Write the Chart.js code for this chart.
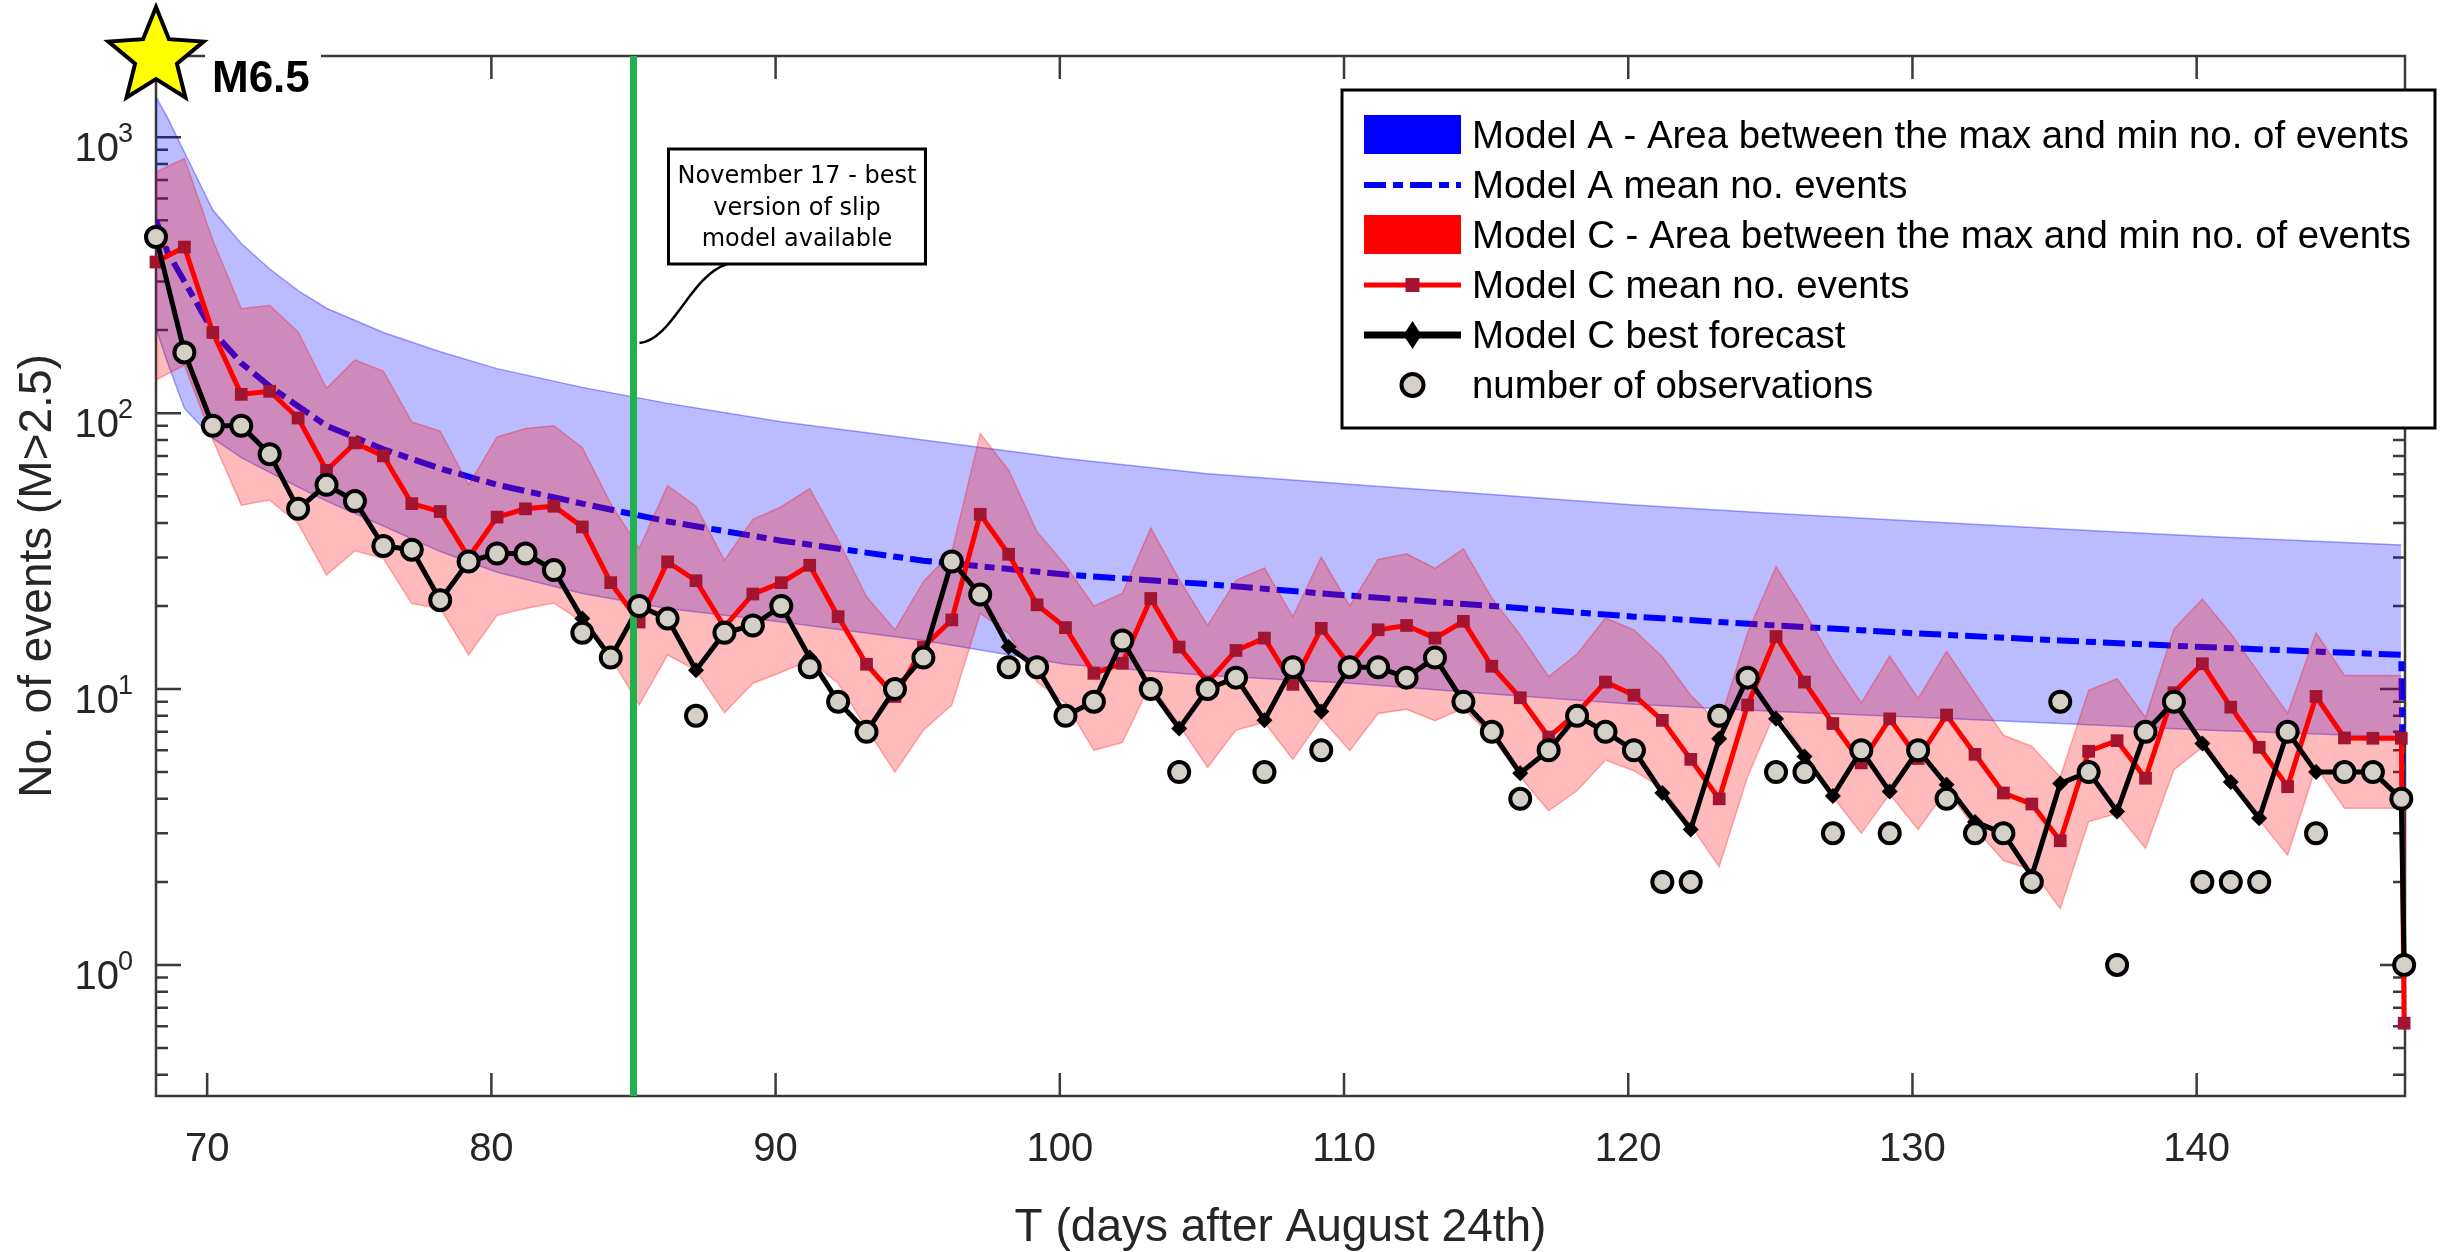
<!DOCTYPE html>
<html>
<head>
<meta charset="utf-8">
<title>Number of events after the M6.5 mainshock</title>
<script src="https://cdn.jsdelivr.net/npm/chart.js@4.4.0/dist/chart.umd.min.js"></script>
<style>
  html, body { margin: 0; padding: 0; background: #fff; }
  #wrap { width: 2447px; height: 1252px; }
</style>
</head>
<body>
<div id="wrap"><canvas id="chart" width="2447" height="1252"></canvas></div>
<script>
// time axis: one sample per day, first one at the M6.5 mainshock
const days = [
  68.2, 69.2, 70.2, 71.2, 72.2, 73.2, 74.2, 75.2, 76.2, 77.2,
  78.2, 79.2, 80.2, 81.2, 82.2, 83.2, 84.2, 85.2, 86.2, 87.2,
  88.2, 89.2, 90.2, 91.2, 92.2, 93.2, 94.2, 95.2, 96.2, 97.2,
  98.2, 99.2, 100.2, 101.2, 102.2, 103.2, 104.2, 105.2, 106.2, 107.2,
  108.2, 109.2, 110.2, 111.2, 112.2, 113.2, 114.2, 115.2, 116.2, 117.2,
  118.2, 119.2, 120.2, 121.2, 122.2, 123.2, 124.2, 125.2, 126.2, 127.2,
  128.2, 129.2, 130.2, 131.2, 132.2, 133.2, 134.2, 135.2, 136.2, 137.2,
  138.2, 139.2, 140.2, 141.2, 142.2, 143.2, 144.2, 145.2, 146.2, 147.2
];

// observed number of M>2.5 events per day
const observed = [
  435, 166, 90, 90, 71, 45, 55, 48, 33, 32,
  21, 29, 31, 31, 27, 16, 13, 20, 18, 8,
  16, 17, 20, 12, 9, 7, 10, 13, 29, 22,
  12, 12, 8, 9, 15, 10, 5, 10, 11, 5,
  12, 6, 12, 12, 11, 13, 9, 7, 4, 6,
  8, 7, 6, 2, 2, 8, 11, 5, 5, 3,
  6, 3, 6, 4, 3, 3, 2, 9, 5, 1,
  7, 9, 2, 2, 2, 7, 3, 5, 5, 4
];

// Model C best forecast
const bestForecast = [
  435, 166, 90, 90, 71, 45, 55, 48, 33, 32,
  21, 29, 31, 31, 27, 18, 13, 20, 18, 11.7,
  16, 17, 20, 13, 9, 7, 10, 13, 29, 22,
  14.2, 12, 8, 9, 15, 10, 7.2, 10, 11, 7.7,
  12, 8.3, 12, 12, 11, 13, 9, 7, 4.95, 6,
  8, 7, 6, 4.2, 3.1, 6.6, 11, 7.8, 5.7, 4.1,
  6, 4.25, 6, 4.5, 3.3, 3, 2.1, 4.55, 5, 3.6,
  7, 9, 6.35, 4.6, 3.4, 7, 5, 5, 5, 4
];

// Model C mean, max and min no. of events
const modelCMean = [
  353, 400, 196, 117, 120, 96, 62, 78, 70, 47,
  44, 30, 42, 45, 46, 38.7, 24.3, 17.5, 28.9, 24.7,
  16.8, 22.1, 24.3, 28.1, 18.3, 12.3, 9.4, 14.2, 17.8, 43,
  30.8, 20.2, 16.7, 11.4, 12.4, 21.3, 14.2, 10.6, 13.8, 15.3,
  10.4, 16.6, 12.2, 16.4, 17, 15.3, 17.6, 12.1, 9.3, 6.7,
  8.2, 10.6, 9.5, 7.7, 5.56, 4.0, 8.75, 15.5, 10.6, 7.5,
  5.4, 7.8, 5.6, 8.05, 5.8, 4.2, 3.83, 2.82, 5.95, 6.5,
  4.75, 9.7, 12.35, 8.6, 6.15, 4.43, 9.4, 6.65, 6.63, 6.63
];
const modelCMax = [
  749, 837, 423, 239, 246, 197, 123, 156, 142, 93,
  86, 55, 82, 88, 90, 75, 47, 32.4, 54.6, 46,
  29.3, 41.2, 45.8, 53.3, 34.7, 21.6, 16.4, 24.5, 31.4, 84.4,
  62.2, 37.2, 28.1, 20, 22.2, 38.4, 25, 17, 24.8, 27.5,
  18.3, 30.1, 20, 29.5, 30.9, 27.4, 32.2, 21.4, 15.7, 11.1,
  13.4, 18.1, 16.4, 13.1, 9.5, 7.5, 16, 27.8, 19.1, 12.7,
  8.9, 13.2, 9.25, 13.7, 9.65, 6.8, 6.2, 4.8, 9.9, 10.9,
  7.9, 16.5, 21.2, 15.9, 11.4, 8.16, 16, 11.2, 11.2, 11.2
];
const modelCMin = [
  132, 149, 80, 46.4, 48.4, 39.8, 25.9, 31.7, 29.7, 20.4,
  19.6, 13.3, 18.5, 19.6, 20.5, 17.5, 13, 8.75, 13.3, 11.7,
  8.2, 10.5, 11.5, 12.7, 10.5, 7.2, 5.0, 7.1, 8.75, 18.8,
  15.9, 10.6, 8.9, 6.0, 6.4, 10.5, 7.4, 5.2, 7.1, 7.57,
  5.56, 7.83, 5.98, 8.16, 8.44, 7.68, 8.51, 6.72, 4.81, 3.62,
  4.28, 5.53, 5.06, 4.37, 3.2, 2.27, 4.81, 8.39, 5.85, 4.07,
  3.0, 4.16, 3.1, 4.31, 3.13, 2.39, 2.21, 1.6, 3.31, 3.54,
  2.65, 5.1, 6.15, 4.55, 3.35, 2.5, 5.23, 3.7, 3.7, 3.7
];

// Model A envelope and mean, sampled along the decay curve
const modelADays = [
  68.2, 68.6, 69.2, 70.2, 71.2, 72.2, 73.2, 74.2, 76.2, 78.2, 80.2, 83.2, 86.2,
  90.2, 95.2, 100.2, 105.2, 110.2, 115.2, 120.2, 125.2, 130.2, 135.2, 140.2, 147.2
];
const modelAMax = [
  1400, 1180, 882, 545, 412, 333, 278, 240, 196, 167, 145, 124, 108.5,
  93, 80, 68.5, 60.3, 55.3, 50.7, 46.5, 43.3, 40.6, 38, 35.8, 33.3
];
const modelAMin = [
  203, 153, 104, 81, 69, 61, 54, 48, 39, 31.5, 26.5, 22.2, 19.6,
  17.5, 15, 12.3, 11.2, 10.5, 9.6, 8.8, 8.3, 7.9, 7.5, 7.1, 6.7
];
const modelAMean = [
  500, 385, 300, 198, 152, 125, 106, 90, 74, 63, 55, 47, 40.5,
  34.5, 29.2, 26, 24, 21.8, 20, 18.3, 17, 15.9, 15, 14.2, 13.3
];

// the last, partial day
const lastDay = 147.3;
const lastObserved = 1;
const lastBest = 1;
const lastModelCMean = 0.615;
const lastModelAMean = 1.5;

const novemberDay = 85;           // November 17
const xTicks = [70, 80, 90, 100, 110, 120, 130, 140];
const yDecades = [1, 10, 100, 1000];
const yExponents = ['0', '1', '2', '3'];
const xMin = 68.2, xMax = 147.33;
const yMin = 0.335, yMax = 1970;

const legendLabels = [
  'Model A - Area between the max and min no. of events',
  'Model A mean no. events',
  'Model C - Area between the max and min no. of events',
  'Model C mean no. events',
  'Model C best forecast',
  'number of observations'
];
const noteLines = ['November 17 - best', 'version of slip', 'model available'];

const FONT = "'Liberation Sans', Arial, sans-serif";
const axisColor = '#3a3a3a';
const textColor = '#262626';
const blueFill = 'rgba(0,0,255,0.265)';
const blueEdge = 'rgba(0,0,255,0.35)';
const redFill = 'rgba(255,0,0,0.265)';
const redEdge = 'rgba(255,0,0,0.3)';
const redMarker = '#a2142f';
const obsFill = '#d4d0c8';
const green = '#22b14c';
const meanDash = [22, 7, 10, 7];

Chart.defaults.font.family = FONT;

const pts = (xs, ys) => xs.map((x, i) => ({ x: x, y: ys[i] }));

function drawStar(ctx, cx, cy, rOut, rIn) {
  ctx.beginPath();
  for (let i = 0; i < 10; i++) {
    const r = i % 2 === 0 ? rOut : rIn;
    const a = -Math.PI / 2 + i * Math.PI / 5;
    const px = cx + r * Math.cos(a);
    const py = cy + r * Math.sin(a);
    if (i === 0) ctx.moveTo(px, py); else ctx.lineTo(px, py);
  }
  ctx.closePath();
}

// box, inward ticks (MATLAB style), drawn under the data
const axesFrame = {
  id: 'axesFrame',
  beforeDatasetsDraw(chart) {
    const { ctx, chartArea: a, scales: { x, y } } = chart;
    ctx.save();
    ctx.strokeStyle = axisColor;
    ctx.lineWidth = 2.5;
    ctx.strokeRect(a.left, a.top, a.right - a.left, a.bottom - a.top);
    ctx.beginPath();
    xTicks.forEach(v => {
      const px = x.getPixelForValue(v);
      ctx.moveTo(px, a.bottom); ctx.lineTo(px, a.bottom - 23);
      ctx.moveTo(px, a.top); ctx.lineTo(px, a.top + 23);
    });
    for (let e = -1; e <= 3; e++) {
      for (let k = 1; k <= 9; k++) {
        const v = k * Math.pow(10, e);
        if (v < yMin || v > yMax) continue;
        const py = y.getPixelForValue(v);
        const len = k === 1 ? 25 : 12;
        ctx.moveTo(a.left, py); ctx.lineTo(a.left + len, py);
        ctx.moveTo(a.right, py); ctx.lineTo(a.right - len, py);
      }
    }
    ctx.stroke();
    ctx.restore();
  }
};

// y labels with exponents, axis titles, callout, star and legend
const decorations = {
  id: 'decorations',
  afterDraw(chart) {
    const { ctx, chartArea: a, scales: { x, y } } = chart;
    ctx.save();

    // 10^n labels
    ctx.fillStyle = textColor;
    yDecades.forEach((v, i) => {
      const py = y.getPixelForValue(v);
      ctx.font = '40px ' + FONT;
      ctx.textAlign = 'right';
      ctx.textBaseline = 'alphabetic';
      ctx.fillText('10', a.left - 37, py + 24);
      ctx.font = '27px ' + FONT;
      ctx.textAlign = 'left';
      ctx.fillText(yExponents[i], a.left - 38, py + 5);
    });

    // axis titles
    ctx.font = '46px ' + FONT;
    ctx.textAlign = 'center';
    ctx.textBaseline = 'middle';
    ctx.fillText('T (days after August 24th)', (a.left + a.right) / 2, 1228);
    ctx.save();
    ctx.translate(38, (a.top + a.bottom) / 2);
    ctx.rotate(-Math.PI / 2);
    ctx.fillText('No. of events (M>2.5)', 0, 0);
    ctx.restore();

    // callout next to the November 17 line
    const gx = x.getPixelForValue(novemberDay);
    const bx = gx + 35, by = a.top + 93, bw = 257, bh = 115;
    ctx.fillStyle = '#fff';
    ctx.fillRect(bx, by, bw, bh);
    ctx.strokeStyle = '#000';
    ctx.lineWidth = 3;
    ctx.strokeRect(bx, by, bw, bh);
    ctx.fillStyle = '#000';
    ctx.font = "24px 'DejaVu Sans', sans-serif";
    noteLines.forEach((t, i) => ctx.fillText(t, bx + bw / 2, by + 28 + i * 31.5));
    ctx.lineWidth = 2.5;
    ctx.beginPath();
    ctx.moveTo(bx + 59, by + bh);
    ctx.bezierCurveTo(bx + 22, by + bh + 11, bx + 4, by + bh + 76, gx + 6, by + bh + 79);
    ctx.stroke();

    // mainshock star and magnitude
    const sx = x.getPixelForValue(days[0]);
    ctx.fillStyle = '#fff';
    ctx.fillRect(sx + 49, a.top - 12, 116, 56);
    drawStar(ctx, sx, a.top + 1, 50, 22);
    ctx.fillStyle = '#ffff00';
    ctx.fill();
    ctx.lineWidth = 4;
    ctx.lineJoin = 'miter';
    ctx.strokeStyle = '#000';
    ctx.stroke();
    ctx.fillStyle = '#000';
    ctx.font = 'bold 44px ' + FONT;
    ctx.textAlign = 'left';
    ctx.textBaseline = 'alphabetic';
    ctx.fillText('M6.5', sx + 56, a.top + 36);

    // legend
    const lx = 1342, ly = 90, lw = 1093, lh = 338;
    ctx.fillStyle = '#fff';
    ctx.fillRect(lx, ly, lw, lh);
    ctx.strokeStyle = '#000';
    ctx.lineWidth = 3;
    ctx.strokeRect(lx, ly, lw, lh);
    const sx0 = lx + 22, sx1 = lx + 119, smid = (sx0 + sx1) / 2;
    legendLabels.forEach((label, i) => {
      const ry = ly + 45 + i * 50;
      ctx.setLineDash([]);
      if (i === 0 || i === 2) {
        ctx.fillStyle = i === 0 ? '#0000ff' : '#ff0000';
        ctx.fillRect(sx0, ry - 20, sx1 - sx0, 39);
      } else if (i === 1) {
        ctx.strokeStyle = '#0000ff';
        ctx.lineWidth = 6;
        ctx.setLineDash(meanDash);
        ctx.beginPath(); ctx.moveTo(sx0, ry); ctx.lineTo(sx1, ry); ctx.stroke();
        ctx.setLineDash([]);
      } else if (i === 3) {
        ctx.strokeStyle = '#ff0000';
        ctx.lineWidth = 5;
        ctx.beginPath(); ctx.moveTo(sx0, ry); ctx.lineTo(sx1, ry); ctx.stroke();
        ctx.fillStyle = redMarker;
        ctx.fillRect(smid - 7, ry - 7, 14, 14);
      } else if (i === 4) {
        ctx.strokeStyle = '#000';
        ctx.lineWidth = 7;
        ctx.beginPath(); ctx.moveTo(sx0, ry); ctx.lineTo(sx1, ry); ctx.stroke();
        ctx.fillStyle = '#000';
        ctx.beginPath();
        ctx.moveTo(smid, ry - 14); ctx.lineTo(smid + 9, ry);
        ctx.lineTo(smid, ry + 14); ctx.lineTo(smid - 9, ry);
        ctx.closePath(); ctx.fill();
      } else {
        ctx.beginPath();
        ctx.arc(smid, ry, 11, 0, Math.PI * 2);
        ctx.fillStyle = obsFill; ctx.fill();
        ctx.lineWidth = 4; ctx.strokeStyle = '#000'; ctx.stroke();
      }
      ctx.fillStyle = '#000';
      ctx.font = '38.4px ' + FONT;
      ctx.textAlign = 'left';
      ctx.textBaseline = 'middle';
      ctx.fillText(label, lx + 130, ry + 2);
    });

    ctx.restore();
  }
};

new Chart(document.getElementById('chart').getContext('2d'), {
  type: 'line',
  data: {
    datasets: [
      {
        label: 'number of observations',
        data: pts(days, observed).concat([{ x: lastDay, y: lastObserved }]),
        showLine: false,
        pointStyle: 'circle',
        pointRadius: 10,
        pointBackgroundColor: obsFill,
        pointBorderColor: '#000',
        pointBorderWidth: 4,
        clip: false,
        order: 0
      },
      {
        label: 'November 17',
        data: [{ x: novemberDay, y: yMin }, { x: novemberDay, y: yMax }],
        borderColor: green,
        borderWidth: 7,
        pointRadius: 0,
        order: 1
      },
      {
        label: 'Model C best forecast',
        data: pts(days, bestForecast).concat([{ x: lastDay, y: lastBest }]),
        borderColor: '#000',
        borderWidth: 5,
        pointStyle: 'rectRot',
        pointRadius: 8,
        pointBackgroundColor: '#000',
        pointBorderWidth: 0,
        clip: false,
        order: 2
      },
      {
        label: 'Model C mean no. events',
        data: pts(days, modelCMean).concat([{ x: lastDay, y: lastModelCMean }]),
        borderColor: '#ff0000',
        borderWidth: 5,
        pointStyle: 'rect',
        pointRadius: 9,
        pointBackgroundColor: redMarker,
        pointBorderWidth: 0,
        clip: false,
        order: 3
      },
      {
        label: 'Model C max',
        data: pts(days, modelCMax),
        borderColor: redEdge,
        borderWidth: 1.5,
        backgroundColor: redFill,
        fill: '+1',
        pointRadius: 0,
        order: 4
      },
      {
        label: 'Model C min',
        data: pts(days, modelCMin),
        borderColor: redEdge,
        borderWidth: 1.5,
        fill: false,
        pointRadius: 0,
        order: 5
      },
      {
        label: 'Model A mean no. events',
        data: pts(modelADays, modelAMean).concat([{ x: lastDay, y: lastModelAMean }]),
        borderColor: '#0000ff',
        borderWidth: 6,
        borderDash: meanDash,
        pointRadius: 0,
        order: 6
      },
      {
        label: 'Model A max',
        data: pts(modelADays, modelAMax),
        borderColor: blueEdge,
        borderWidth: 1.5,
        backgroundColor: blueFill,
        fill: '+1',
        pointRadius: 0,
        order: 7
      },
      {
        label: 'Model A min',
        data: pts(modelADays, modelAMin),
        borderColor: blueEdge,
        borderWidth: 1.5,
        fill: false,
        pointRadius: 0,
        order: 8
      }
    ]
  },
  options: {
    responsive: false,
    animation: false,
    devicePixelRatio: 1,
    layout: { padding: { left: 0, right: 42, top: 56, bottom: 0 } },
    elements: { line: { tension: 0 } },
    plugins: {
      legend: { display: false },
      tooltip: { enabled: false }
    },
    scales: {
      x: {
        type: 'linear',
        bounds: 'data',
        min: xMin,
        max: xMax,
        grid: { display: false },
        border: { display: false },
        afterBuildTicks: s => { s.ticks = xTicks.map(v => ({ value: v })); },
        afterFit: s => { s.height = 156; },
        ticks: {
          font: { size: 40 },
          color: textColor,
          padding: 22,
          maxRotation: 0,
          autoSkip: false
        }
      },
      y: {
        type: 'logarithmic',
        bounds: 'data',
        min: yMin,
        max: yMax,
        grid: { display: false },
        border: { display: false },
        ticks: { display: false },
        afterBuildTicks: s => { s.min = yMin; s.max = yMax; },
        afterFit: s => { s.width = 156; }
      }
    }
  },
  plugins: [axesFrame, decorations]
});
</script>
</body>
</html>
